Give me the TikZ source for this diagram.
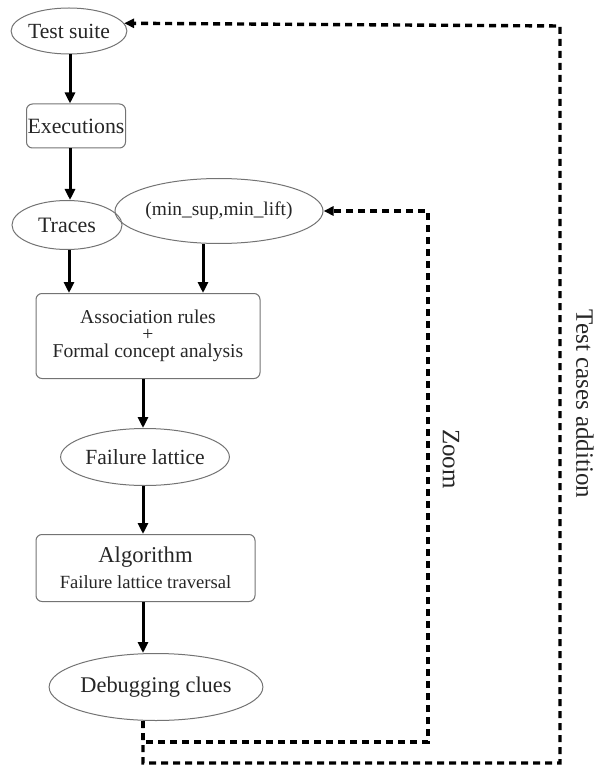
\documentclass[tikz,border=0pt]{standalone}
\usepackage{fontspec}
\setmainfont{Liberation Serif}
\usetikzlibrary{arrows.meta,shapes.geometric}

\begin{document}
\begin{tikzpicture}[x=0.5pt,y=-0.5pt,
  base/.style={draw=black!55, line width=0.5pt, inner sep=0pt, align=center, text=black!85},
  oval/.style={base, ellipse},
  boxed/.style={base, rectangle, rounded corners=3pt},
  flow/.style={line width=1.5pt, -{Triangle[length=5.5pt,width=5pt]}},
  loop/.style={line width=1.7pt, dash pattern=on 3.5pt off 2.5pt, -{Triangle[length=5pt,width=4.5pt]}},
  sz/.style={font=\fontsize{#1}{#1}\selectfont}]
\useasboundingbox (0,0) rectangle (598,770);

% main pipeline
\node[oval, minimum width=56.5pt, minimum height=23pt, sz=10.8] (suite) at (69,31) {Test suite};
\node[boxed, minimum width=49.5pt, minimum height=22pt, sz=10.9] (exec) at (76,126) {Executions};
\node[oval, minimum width=55pt, minimum height=24.5pt, sz=11] (traces) at (67,225) {Traces};
\node[oval, minimum width=89pt, minimum height=32.5pt, sz=9.7] (minsup) at (219,211) {(min\_sup,min\_lift)};
\node[boxed, minimum width=112pt, minimum height=42.5pt, font=\fontsize{9.8}{8.5}\selectfont] (assoc) at (148,336)
  {Association rules\\+\\Formal concept analysis};
\node[oval, minimum width=70pt, minimum height=28.5pt, sz=10.8] (lattice) at (145,457) {Failure lattice};
\node[boxed, minimum width=109.5pt, minimum height=33.5pt] (algo) at (145.5,568)
  {{\fontsize{11.3}{13.5}\selectfont Algorithm}\\[1pt]{\fontsize{9.3}{11}\selectfont Failure lattice traversal}};
\node[oval, minimum width=87pt, minimum height=33.5pt, sz=11.2] (clues) at (156,687) {Debugging clues};

% solid flow arrows
\draw[flow] (70,0 |- suite.south) -- (70,0 |- exec.north);
\draw[flow] (70,0 |- exec.south) -- (70,0 |- traces.north);
\draw[flow] (69,0 |- traces.south) -- (69,0 |- assoc.north);
\draw[flow] (203,0 |- minsup.south) -- (203,0 |- assoc.north);
\draw[flow] (143,0 |- assoc.south) -- (143,0 |- lattice.north);
\draw[flow] (143,0 |- lattice.south) -- (143,0 |- algo.north);
\draw[flow] (143,0 |- algo.south) -- (143,0 |- clues.north);

% feedback loops
\coordinate (zb) at (143,742);
\coordinate (zr) at (428,742);
\coordinate (tb) at (143,763);
\coordinate (tr) at (560,763);
\coordinate (tt) at (560,26);
\draw[loop] (143,0 |- clues.south) -- (zb) -- (zr) |- (minsup.east);
\draw[loop] (143,0 |- clues.south) -- (tb) -- (tr) -- (tt) -- (suite.8);

% loop labels
\node[rotate=-90, sz=12.5, inner sep=0pt, text=black!85] (zoomlbl) at (451,459) {Zoom};
\node[rotate=-90, sz=12.5, inner sep=0pt, text=black!85] (addlbl) at (585,404) {Test cases addition};
\end{tikzpicture}
\end{document}
